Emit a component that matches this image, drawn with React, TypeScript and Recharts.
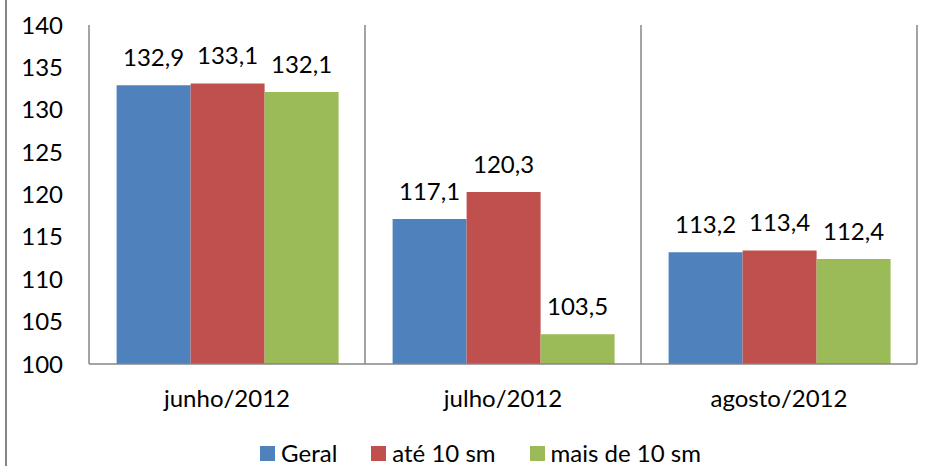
import React from "react";
import { BarChart, Bar, XAxis, YAxis, CartesianGrid, Legend, LabelList } from "recharts";

const categories = ["junho/2012", "julho/2012", "agosto/2012"];
const geral = [132.9, 117.1, 113.2];
const ate10 = [133.1, 120.3, 113.4];
const mais10 = [132.1, 103.5, 112.4];
const yTicks = [100, 105, 110, 115, 120, 125, 130, 135, 140];
const seriesNames = ["Geral", "até 10 sm", "mais de 10 sm"];
const colors = ["#4F81BD", "#C0504D", "#9BBB59"];

const data = categories.map((c, i) => ({
  name: c,
  geral: geral[i],
  ate10: ate10[i],
  mais10: mais10[i],
}));

const FONT = "Lato, 'Open Sans', sans-serif";
const FS = 24;
const fmt = (v: any) => Number(v).toFixed(1).replace(".", ",");

const LegendContent = (props: any) => {
  const { payload } = props;
  return (
    <div style={{ display: "flex", justifyContent: "center", alignItems: "center", fontFamily: FONT, fontSize: FS, color: "#000", paddingLeft: 44, lineHeight: "30px" }}>
      {payload.map((p: any, i: number) => (
        <div key={i} style={{ display: "flex", alignItems: "center", marginLeft: i === 0 ? 0 : 34 }}>
          <span style={{ display: "inline-block", width: 15, height: 15, background: p.color, marginRight: 6 }} />
          <span>{p.value}</span>
        </div>
      ))}
    </div>
  );
};

export default function App() {
  return (
    <div style={{ position: "absolute", left: 0, top: 0, width: 934, height: 466, background: "#fff" }}>
      <div style={{ position: "absolute", left: 5, top: 0, width: 2, height: 466, background: "#868686" }} />
      <BarChart
        width={934}
        height={466}
        data={data}
        margin={{ top: 25, right: 17, left: 0, bottom: 0 }}
        barCategoryGap="10%"
        barGap={0}
      >
        <CartesianGrid
          horizontal={false}
          vertical={true}
          stroke="#868686"
          strokeWidth={1.5}
          verticalCoordinatesGenerator={({ offset }: any) => [
            offset.left + offset.width / 3,
            offset.left + (2 * offset.width) / 3,
            offset.left + offset.width,
          ]}
        />
        <XAxis
          dataKey="name"
          height={72}
          tickLine={false}
          tickSize={0}
          tickMargin={26}
          axisLine={{ stroke: "#868686", strokeWidth: 1.5 }}
          tick={{ fill: "#000", fontSize: FS, fontFamily: FONT }}
        />
        <YAxis
          width={89}
          domain={[100, 140]}
          ticks={yTicks}
          interval={0}
          tickLine={false}
          tickSize={0}
          tickMargin={26}
          axisLine={{ stroke: "#868686", strokeWidth: 1.5 }}
          tick={{ fill: "#000", fontSize: FS, fontFamily: FONT }}
          allowDataOverflow
        />
        <Legend verticalAlign="bottom" height={30} wrapperStyle={{ bottom: -2 }} content={<LegendContent />} />
        <Bar dataKey="geral" name={seriesNames[0]} fill={colors[0]} isAnimationActive={false}>
          <LabelList dataKey="geral" position="top" offset={19} formatter={fmt} style={{ fill: "#000", fontSize: FS, fontFamily: FONT }} />
        </Bar>
        <Bar dataKey="ate10" name={seriesNames[1]} fill={colors[1]} isAnimationActive={false}>
          <LabelList dataKey="ate10" position="top" offset={19} formatter={fmt} style={{ fill: "#000", fontSize: FS, fontFamily: FONT }} />
        </Bar>
        <Bar dataKey="mais10" name={seriesNames[2]} fill={colors[2]} isAnimationActive={false}>
          <LabelList dataKey="mais10" position="top" offset={19} formatter={fmt} style={{ fill: "#000", fontSize: FS, fontFamily: FONT }} />
        </Bar>
      </BarChart>
    </div>
  );
}
